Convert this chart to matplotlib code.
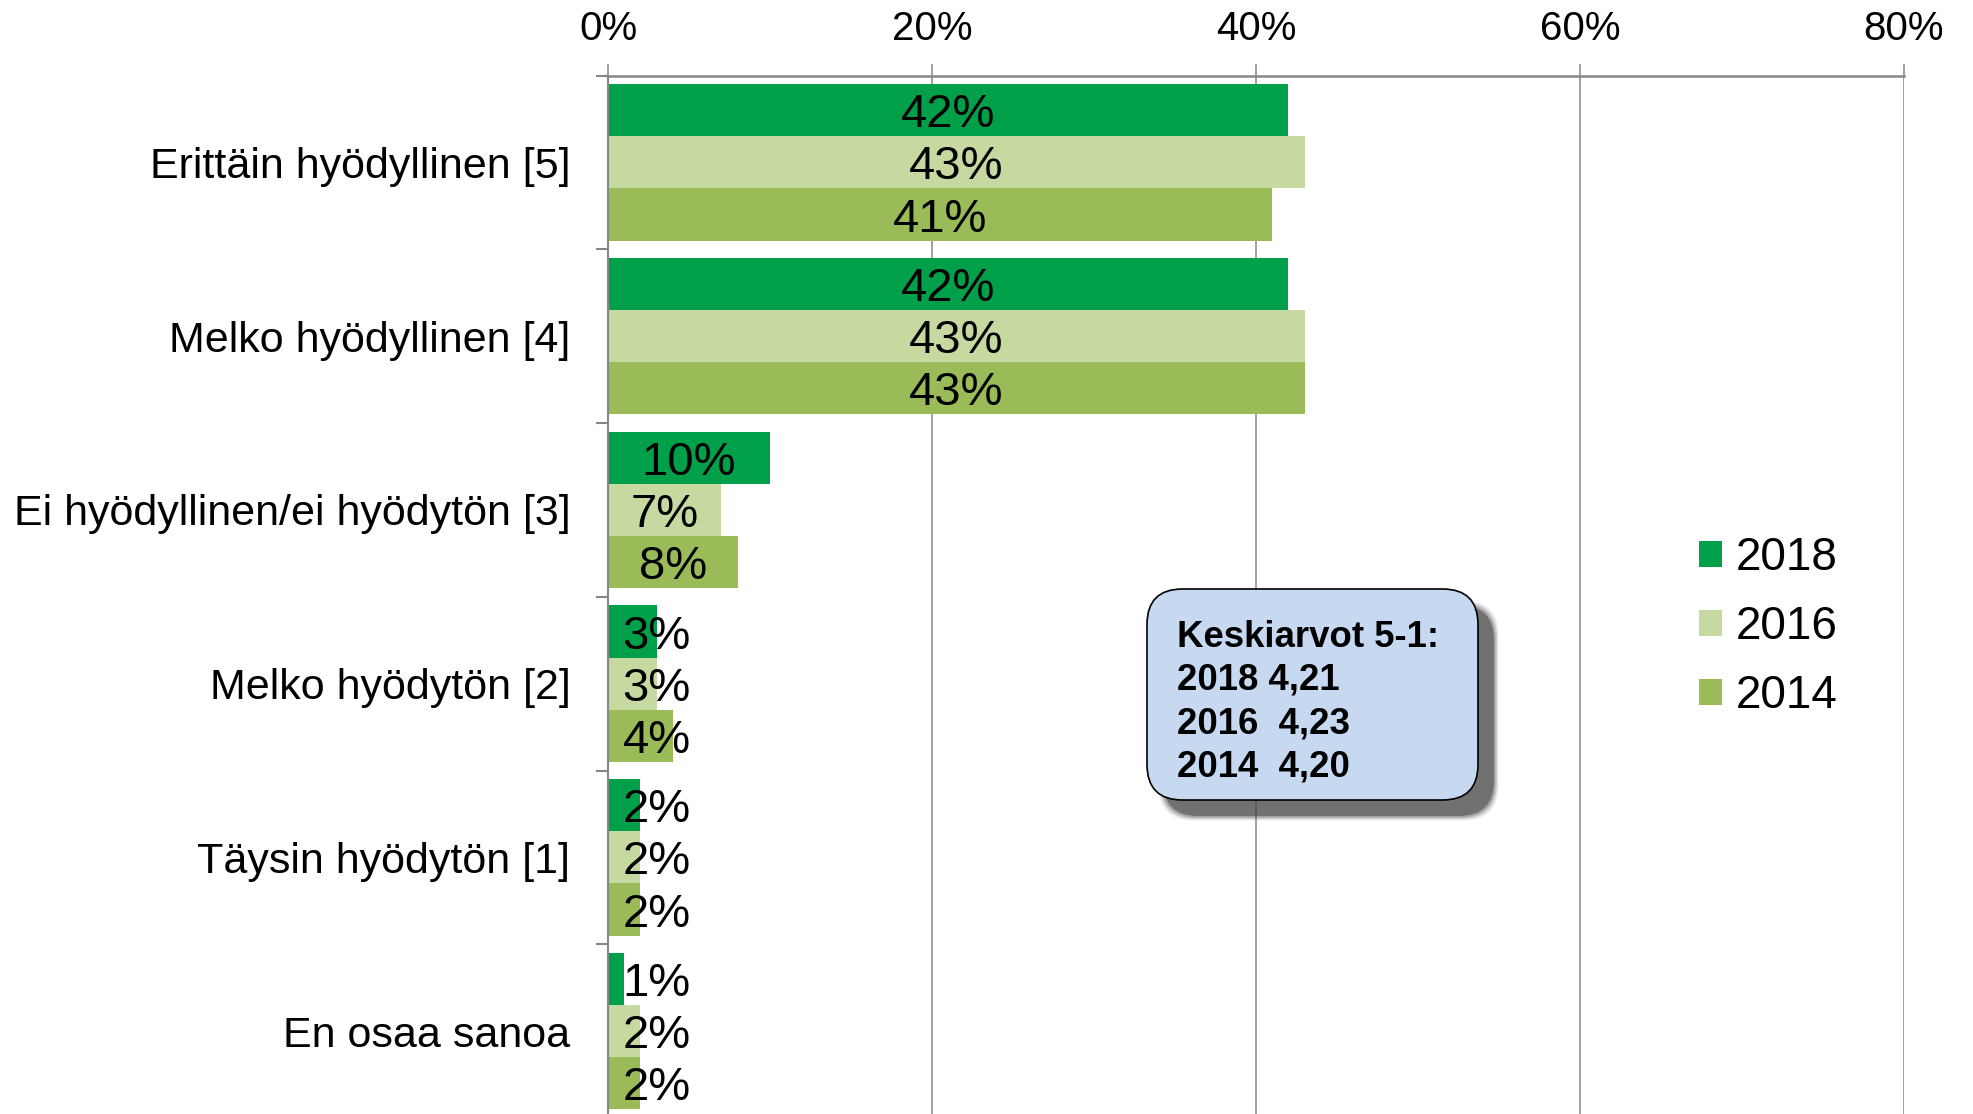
import numpy as np
import matplotlib.pyplot as plt
from matplotlib.patches import Patch, FancyBboxPatch

plt.rcParams['font.family'] = ['Liberation Sans', 'DejaVu Sans']

categories = ['Erittäin hyödyllinen [5]', 'Melko hyödyllinen [4]', 'Ei hyödyllinen/ei hyödytön [3]',
              'Melko hyödytön [2]', 'Täysin hyödytön [1]', 'En osaa sanoa']
years = ['2018', '2016', '2014']
values_2018 = [42, 42, 10, 3, 2, 1]
values_2016 = [43, 43, 7, 3, 2, 2]
values_2014 = [41, 43, 8, 4, 2, 2]
colors = ['#00A04A', '#C5D9A0', '#9BBB59']
xticks = [0, 20, 40, 60, 80]
means_title = 'Keskiarvot 5-1:'
means = ['2018 4,21', '2016  4,23', '2014  4,20']

fig = plt.figure(figsize=(19.74, 11.14), dpi=100)
ax = fig.add_axes([0.308, -0.0036, 0.6565, 0.9358])

y = np.arange(len(categories))
h = 0.3
series = [values_2018, values_2016, values_2014]
for k, (vals, col, yr) in enumerate(zip(series, colors, years)):
    pos = y + (k - 1) * h
    ax.barh(pos, vals, height=h, color=col, label=yr, zorder=2)
    for p, v in zip(pos, vals):
        if v < 6:
            ax.text(0.9, p, f'{v}%', ha='left', va='center_baseline', fontsize=34, zorder=3)
        else:
            ax.text(v / 2, p, f'{v}%', ha='center', va='center_baseline', fontsize=34, zorder=3)

ax.set_xlim(0, 80)
ax.set_ylim(len(categories) - 0.5, -0.5)
ax.xaxis.tick_top()
ax.set_xticks(xticks)
ax.set_xticklabels([f'{t}%' for t in xticks], fontsize=29)
ax.tick_params(axis='x', length=9, width=1.1, color='#868686', pad=11)
ax.grid(axis='x', color='#868686', linewidth=1.1, zorder=0)

ax.set_yticks(y)
ax.set_yticklabels(categories, fontsize=31)
ax.tick_params(axis='y', length=0, pad=27)
ax.set_yticks(np.arange(len(categories) + 1) - 0.5, minor=True)
ax.tick_params(axis='y', which='minor', length=9, width=1.5, color='#868686')

for s in ['right', 'bottom']:
    ax.spines[s].set_visible(False)
ax.spines['top'].set_color('#868686')
ax.spines['top'].set_linewidth(1.8)
ax.spines['left'].set_color('#868686')
ax.spines['left'].set_linewidth(1.5)

handles = [Patch(facecolor=c, label=yr) for c, yr in zip(colors, years)]
fig.legend(handles=handles, loc='center left', bbox_to_anchor=(0.8605, 0.437), frameon=False,
           fontsize=33, handlelength=0.5, handleheight=0.5, handletextpad=0.3,
           labelspacing=0.54, borderpad=0, borderaxespad=0)

# text box with soft shadow
bx0, by0, bw, bh = 1147 / 1974, 1 - 800 / 1114, (1478 - 1147) / 1974, (800 - 589) / 1114
for i, a in enumerate([0.12, 0.2, 0.3, 0.55]):
    grow = (3 - i) * 1.5
    sh = FancyBboxPatch((bx0 + (16 - grow) / 1974, by0 - (16 + grow) / 1114),
                        bw + 2 * grow / 1974, bh + 2 * grow / 1114,
                        boxstyle='round,pad=0,rounding_size=0.018', transform=fig.transFigure,
                        facecolor='#4a4a4a', edgecolor='none', alpha=a, zorder=5, mutation_aspect=1974 / 1114)
    fig.patches.append(sh)
box = FancyBboxPatch((bx0, by0), bw, bh, boxstyle='round,pad=0,rounding_size=0.018',
                     transform=fig.transFigure, facecolor='#C6D9F1', edgecolor='black',
                     linewidth=1.2, zorder=6, mutation_aspect=1974 / 1114)
fig.patches.append(box)
fig.text(1177 / 1974, 1 - 702 / 1114, '\n'.join([means_title] + means), ha='left', va='center',
         fontsize=26.4, fontweight='bold', linespacing=1.3, zorder=7)

fig.savefig('out.png', dpi=100)
